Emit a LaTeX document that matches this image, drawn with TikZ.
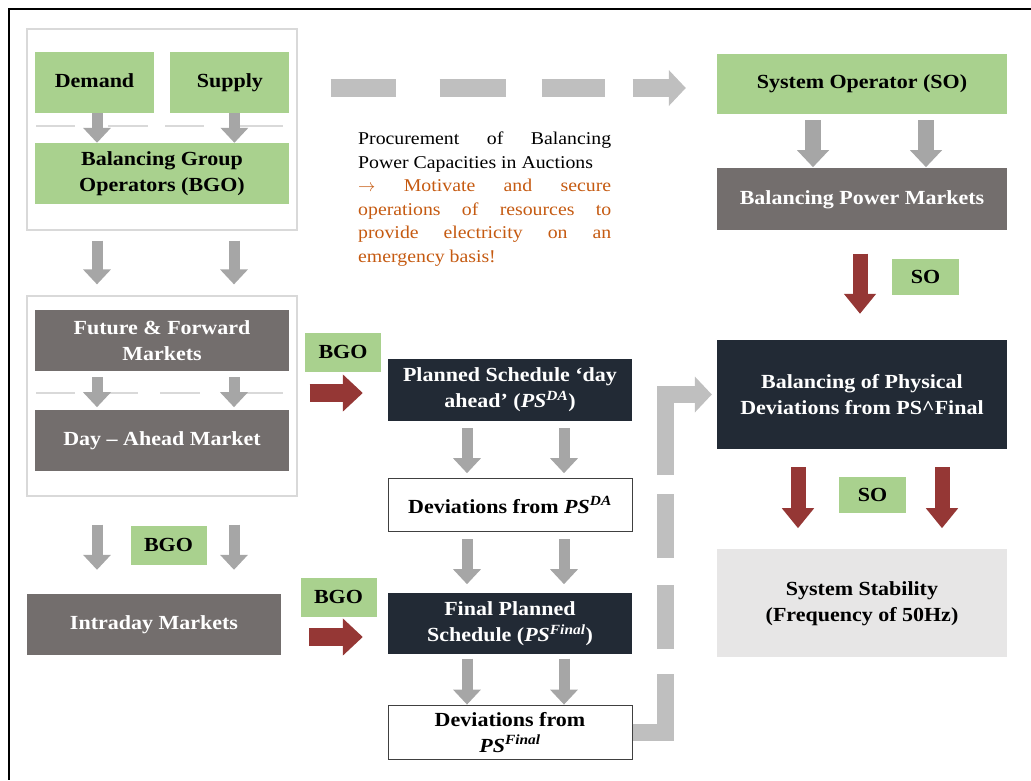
\documentclass[tikz,border=0pt]{standalone}
\usepackage{fontspec}
\setmainfont{Liberation Serif}[FakeStretch=1.1]
\usetikzlibrary{positioning,arrows.meta}

\definecolor{grn}{HTML}{A9D18E}
\definecolor{mkt}{HTML}{736E6D}
\definecolor{navy}{HTML}{222A35}
\definecolor{lgray}{HTML}{E7E6E6}
\definecolor{agray}{HTML}{A6A6A6}
\definecolor{dgray}{HTML}{BFBFBF}
\definecolor{rimgray}{HTML}{D9D9D9}
\definecolor{brick}{HTML}{953735}
\definecolor{rust}{HTML}{C55A11}

\newcommand{\schd}[1]{\textit{PS}\textsuperscript{\textit{#1}}}

\begin{document}
\begin{tikzpicture}[x=1pt, y=-1pt,
  every node/.style={font=\fontsize{20}{26}\selectfont\bfseries, inner sep=2pt, align=center},
  box/.style={minimum width=254pt, minimum height=61pt},
  one/.style={text height=14pt, text depth=4pt},
  grnbox/.style={box, fill=grn, text=black},
  mktbox/.style={box, fill=mkt, text=white},
  navbox/.style={minimum width=244pt, minimum height=61pt, fill=navy, text=white},
  devbox/.style={minimum width=244pt, minimum height=53pt, draw=black!75, line width=1pt, fill=white},
  wide/.style={minimum width=290pt, minimum height=60pt},
  tag/.style={fill=grn, text=black, minimum width=76pt, minimum height=39pt},
  grp/.style={draw=rimgray, line width=1.2pt, fill=white, minimum width=270pt, minimum height=200pt},
  sep/.style={draw=rimgray, line width=1.2pt},
  garr/.style={draw=agray, line width=11pt, -{Triangle[length=15pt, width=27pt]}},
  sarr/.style={draw=agray, line width=16pt, -{Triangle[length=17pt, width=31pt]}},
  rarr/.style={draw=brick, line width=15pt, -{Triangle[length=20pt, width=31pt]}},
  rharr/.style={draw=brick, line width=18pt, -{Triangle[length=20pt, width=36pt]}},
  darr/.style={draw=dgray, line width=17pt, -{Triangle[length=17pt, width=35pt]}}]

\useasboundingbox (0,0) rectangle (1031,780);
\draw[line width=2.5pt] (1031,9) -- (9,9) -- (9,780);

\node[grp, minimum height=201pt] (g1) at (162,129.5) {};
\node[grp] (g2) at (162,396) {};

\node[grnbox, one, minimum width=119pt] (dem) at (94.5,82.5) {Demand};
\node[grnbox, one, minimum width=119pt, right=16pt of dem] (sup) {Supply};
\node[grnbox] (bgo) at (162,173.5) {Balancing Group\\Operators (BGO)};
\draw[sep] (36,126) -- (75,126) (108,126) -- (148,126) (165,126) -- (204,126) (240,126) -- (283,126);

\node[mktbox] (ffm) at (162,340.5) {Future \& Forward\\Markets};
\node[mktbox, below=39pt of ffm] (dam) {Day -- Ahead Market};
\draw[sep] (36,393) -- (75,393) (100,393) -- (138,393) (160,393) -- (200,393) (240,393) -- (283,393);
\node[mktbox] (intra) at (154,624.5) {Intraday Markets};

\node[navbox, minimum height=62pt] (psda) at (510,390) {Planned Schedule ‘day\\ahead’ (\schd{DA})};
\node[devbox, below=57pt of psda] (devda) {Deviations from \schd{DA}};
\node[navbox, below=61pt of devda] (psfin) {Final Planned\\Schedule (\schd{Final})};
\node[devbox, minimum height=54pt, below=50pt of psfin] (devfin) {Deviations from\\\schd{Final}};

\node[grnbox, wide] (so) at (862,84) {System Operator (SO)};
\node[mktbox, wide, minimum height=62pt, below=54pt of so] (bpm) {Balancing Power Markets};
\node[wide, minimum height=109pt, fill=navy, text=white] (bal) at (862,394.5) {Balancing of Physical\\Deviations from PS\^{}Final};
\node[wide, minimum height=108pt, fill=lgray, below=100pt of bal] (stab) {System Stability\\(Frequency of 50Hz)};

\node[tag] (t1) at (343,352) {BGO};
\node[tag] (t2) at (168.5,545) {BGO};
\node[tag] (t3) at (338.5,597) {BGO};
\node[tag, minimum width=67pt, minimum height=36pt] (t4) at (925.5,277) {SO};
\node[tag, minimum width=67pt, minimum height=36pt] (t5) at (872.5,494.5) {SO};

\node[anchor=north west, text width=253pt, inner sep=0pt, align=justify,
      font=\fontsize{18}{23.5}\selectfont] (txt) at (358,132)
  {Procurement of Balancing\linebreak Power Capacities in Auctions\par
   \color{rust}$\rightarrow$ Motivate and secure\linebreak operations of resources to\linebreak
   provide electricity on an\linebreak emergency basis!};

\draw[garr] ([xshift=2.5pt]dem.south) -- ([xshift=2.5pt]dem.south |- bgo.north);
\draw[garr] ([xshift=4.5pt]sup.south) -- ([xshift=4.5pt]sup.south |- bgo.north);
\foreach \dx in {-65,72} {
  \draw[garr, shorten <=10pt, shorten >=11pt] ([xshift=\dx pt]g1.south) -- ([xshift=\dx pt]g2.north);
  \draw[garr, shorten <=6pt, shorten >=3pt] ([xshift=\dx pt]ffm.south) -- ([xshift=\dx pt]dam.north);
  \draw[garr, shorten <=28pt, shorten >=24pt] ([xshift=\dx pt]g2.south) -- ([xshift=\dx pt]g2.south |- intra.north);
}
\foreach \dx in {-43,54} {
  \draw[garr, shorten <=7pt, shorten >=5pt] ([xshift=\dx pt]psda.south) -- ([xshift=\dx pt]devda.north);
  \draw[garr, shorten <=7pt, shorten >=9pt] ([xshift=\dx pt]devda.south) -- ([xshift=\dx pt]psfin.north);
  \draw[garr, shorten <=4pt] ([xshift=\dx pt]psfin.south) -- ([xshift=\dx pt]devfin.north);
}
\foreach \dx in {-49,64}
  \draw[sarr, shorten <=6pt, shorten >=1pt] ([xshift=\dx pt]so.south) -- ([xshift=\dx pt]bpm.north);
\draw[rarr, shorten <=23pt, shorten >=26pt] ([xshift=-2pt]bpm.south) -- ([xshift=-2pt]bal.north);
\foreach \dx in {-64,80}
  \draw[rarr, shorten <=18pt, shorten >=21pt] ([xshift=\dx pt]bal.south) -- ([xshift=\dx pt]stab.north);

\draw[rharr, shorten <=12pt, shorten >=25pt] ([yshift=-3pt]g2.east |- psda.west) -- ([yshift=-3pt]psda.west);
\draw[rharr, shorten <=28pt, shorten >=25pt] ([yshift=-12.5pt]intra.east) -- ([yshift=-12.5pt]intra.east -| psfin.west);

\draw[darr, line width=18pt, dash pattern=on 65pt off 44pt on 66pt off 36pt on 63pt off 28pt on 80pt,
      shorten <=33pt, shorten >=31pt] ([yshift=-4pt]g1.east |- so.west) -- ([yshift=-4pt]so.west);
\draw[darr, dash pattern=on 91pt off 25pt on 64pt off 27pt on 64pt off 19pt on 200pt,
      shorten >=5pt] (devfin.east) -- ++(33,0) |- (bal.west);
\end{tikzpicture}
\end{document}
